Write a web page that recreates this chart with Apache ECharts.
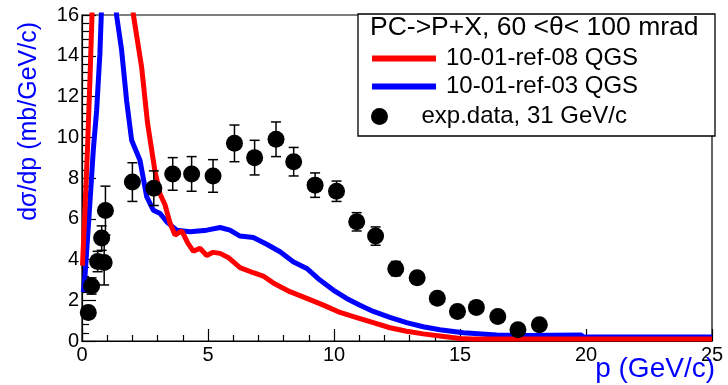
<!DOCTYPE html>
<html><head><meta charset="utf-8">
<script src="https://cdn.jsdelivr.net/npm/echarts@6/dist/echarts.min.js"></script>
<style>html,body{margin:0;padding:0;background:#fff}#c{width:728px;height:385px}</style>
</head><body><div id="c"></div>
<script>
// Tick labels
const xTickLabels = [0, 5, 10, 15, 20, 25];
const yTickLabels = [0, 2, 4, 6, 8, 10, 12, 14, 16];

// Experimental data (p, dσ/dp, error)
const expP   = [0.25, 0.38, 0.62, 0.78, 0.88, 0.93, 2.0, 2.85, 3.6, 4.35, 5.2, 6.05, 6.85, 7.7, 8.4, 9.25, 10.1, 10.9, 11.65, 12.45, 13.3, 14.1, 14.9, 15.65, 16.5, 17.3, 18.15];
const expV   = [1.4, 2.7, 3.9, 5.05, 3.85, 6.4, 7.8, 7.5, 8.2, 8.2, 8.1, 9.7, 9.0, 9.9, 8.8, 7.65, 7.35, 5.85, 5.15, 3.55, 3.1, 2.1, 1.45, 1.65, 1.2, 0.55, 0.8];
const expErr = [0.3, 0.4, 0.5, 0.6, 1.1, 1.2, 0.95, 0.85, 0.8, 0.85, 0.8, 0.9, 0.85, 0.85, 0.7, 0.6, 0.5, 0.45, 0.45, 0.35, 0.3, 0.25, 0.2, 0.2, 0.15, 0.1, 0.1];

// 10-01-ref-08 QGS (red)
const redP = [0.02, 0.12, 0.22, 0.32, 0.41, 0.6, 1.0, 1.5, 1.9, 2.04, 2.37, 2.6, 2.9, 3.1, 3.29, 3.49, 3.69, 3.96, 4.2, 4.42, 4.68, 4.95, 5.2, 5.48, 5.8, 6.27, 6.8, 7.19, 7.59, 8.25, 8.92, 9.58, 10.24, 10.9, 11.56, 12.22, 12.88, 13.54, 14.2, 15.0, 15.5, 25];
const redV = [3.7, 6.5, 9.5, 13.0, 16.5, 22, 28, 24, 17.5, 16, 13.4, 10.7, 8.3, 7.2, 6.7, 5.8, 5.2, 5.4, 4.8, 4.4, 4.55, 4.2, 4.35, 4.3, 4.1, 3.6, 3.35, 3.19, 2.85, 2.42, 2.09, 1.76, 1.4, 1.15, 0.9, 0.65, 0.48, 0.35, 0.25, 0.12, 0.1, 0.1];

// 10-01-ref-03 QGS (blue)
const blueP = [0.05, 0.12, 0.32, 0.45, 0.58, 0.71, 0.78, 1.0, 1.2, 1.37, 1.57, 1.77, 1.97, 2.3, 2.57, 2.83, 3.1, 3.36, 3.76, 4.29, 4.95, 5.48, 5.87, 6.27, 6.8, 7.33, 7.86, 8.38, 8.92, 9.44, 9.97, 10.5, 11.03, 11.56, 12.22, 12.88, 13.54, 14.2, 15.13, 16.46, 17.5, 19.8, 19.9, 25];
const blueV = [2.4, 3.2, 6.9, 9.4, 11.3, 14.1, 16.5, 22, 20, 16, 14.3, 11.8, 9.85, 8.87, 7.07, 6.42, 6.26, 5.85, 5.44, 5.36, 5.44, 5.57, 5.44, 5.15, 5.08, 4.75, 4.38, 3.89, 3.56, 2.99, 2.5, 2.09, 1.75, 1.45, 1.16, 0.9, 0.7, 0.55, 0.41, 0.3, 0.27, 0.3, 0.2, 0.2];

const FONT = '"Liberation Sans", Arial, sans-serif';
const zip = (a, b) => a.map((v, i) => [v, b[i]]);

const chart = echarts.init(document.getElementById('c'), null, {renderer: 'canvas'});
chart.setOption({
  animation: false,
  backgroundColor: '#fff',
  textStyle: {fontFamily: FONT},
  grid: {left: 82, right: 16, top: 15, bottom: 44, containLabel: false, outerBoundsMode: 'none',
         show: true, borderColor: '#000', borderWidth: 1.2, backgroundColor: 'transparent'},
  title: [{
    text: 'PC->P+X, 60 <θ< 100 mrad',
    left: 370, top: 15, padding: 0,
    textStyle: {fontFamily: FONT, fontSize: 26.5, fontWeight: 'normal', color: '#000', lineHeight: 26}
  }, {
    text: 'p (GeV/c)',
    right: 13, top: 355, padding: 0,
    textStyle: {fontFamily: FONT, fontSize: 28, fontWeight: 'normal', color: '#0000ff', lineHeight: 28}
  }],
  graphic: [{
    type: 'rect', z: 0,
    shape: {x: 358, y: 14, width: 357, height: 122},
    style: {fill: '#fff', stroke: '#000', lineWidth: 1.3}
  }],
  legend: [{
    data: [{name: '10-01-ref-08 QGS', icon: 'rect'}, {name: '10-01-ref-03 QGS', icon: 'rect'}],
    orient: 'vertical', left: 372, top: 46, padding: 0,
    itemWidth: 64, itemHeight: 6, itemGap: 3,
    textStyle: {fontFamily: FONT, fontSize: 24, color: '#000', lineHeight: 25, padding: [0, 0, 0, 5]}
  }, {
    data: [{name: 'exp.data, 31 GeV/c', icon: 'circle'}],
    orient: 'vertical', left: 371, top: 104, padding: 0,
    itemWidth: 64, itemHeight: 17,
    textStyle: {fontFamily: FONT, fontSize: 24, color: '#000', lineHeight: 25, padding: [0, 0, 0, 5]}
  }],
  xAxis: {
    type: 'value',
    min: xTickLabels[0], max: xTickLabels[xTickLabels.length - 1],
    interval: xTickLabels[1] - xTickLabels[0],
    axisLine: {show: true, onZero: false, lineStyle: {color: '#000', width: 1.2}},
    axisTick: {show: true, inside: true, length: 12, lineStyle: {color: '#000', width: 1.2}},
    minorTick: {show: true, splitNumber: 5, length: 6, lineStyle: {color: '#000', width: 1.2}},
    axisLabel: {fontFamily: FONT, fontSize: 20, color: '#000', margin: 4},
    splitLine: {show: false}
  },
  yAxis: {
    type: 'value',
    min: yTickLabels[0], max: yTickLabels[yTickLabels.length - 1],
    interval: yTickLabels[1] - yTickLabels[0],
    name: 'dσ/dp (mb/GeV/c)', nameLocation: 'end', nameGap: -7, nameRotate: 90,
    nameTextStyle: {fontFamily: FONT, fontSize: 25, color: '#0000ff', align: 'right', verticalAlign: 'bottom', padding: [0, 0, 40, 0]},
    axisLine: {show: true, onZero: false, lineStyle: {color: '#000', width: 1.2}},
    axisTick: {show: true, inside: true, length: 14, lineStyle: {color: '#000', width: 1.2}},
    minorTick: {show: true, splitNumber: 5, length: 7, lineStyle: {color: '#000', width: 1.2}},
    axisLabel: {fontFamily: FONT, fontSize: 20, color: '#000', margin: 3},
    splitLine: {show: false}
  },
  series: [{
    name: '10-01-ref-03 QGS', type: 'line', data: zip(blueP, blueV),
    symbol: 'none', clip: true, z: 3,
    lineStyle: {color: '#0000ff', width: 5}, itemStyle: {color: '#0000ff'}
  }, {
    name: '10-01-ref-08 QGS', type: 'line', data: zip(redP, redV),
    symbol: 'none', clip: true, z: 4,
    lineStyle: {color: '#ff0000', width: 5}, itemStyle: {color: '#ff0000'}
  }, {
    name: 'errbars', type: 'custom', z: 5, clip: true,
    data: expP.map((p, i) => [p, expV[i], expErr[i]]),
    renderItem: function (params, api) {
      const x = api.value(0), y = api.value(1), e = api.value(2);
      const top = api.coord([x, y + e]);
      const bot = api.coord([x, y - e]);
      const hw = 5;
      const st = {stroke: '#000', lineWidth: 1.5};
      return {type: 'group', children: [
        {type: 'line', shape: {x1: top[0], y1: top[1], x2: bot[0], y2: bot[1]}, style: st},
        {type: 'line', shape: {x1: top[0] - hw, y1: top[1], x2: top[0] + hw, y2: top[1]}, style: st},
        {type: 'line', shape: {x1: bot[0] - hw, y1: bot[1], x2: bot[0] + hw, y2: bot[1]}, style: st}
      ]};
    }
  }, {
    name: 'exp.data, 31 GeV/c', type: 'scatter', z: 6,
    data: zip(expP, expV), symbol: 'circle', symbolSize: 17,
    itemStyle: {color: '#000', opacity: 1}
  }]
});
</script>
</body></html>
